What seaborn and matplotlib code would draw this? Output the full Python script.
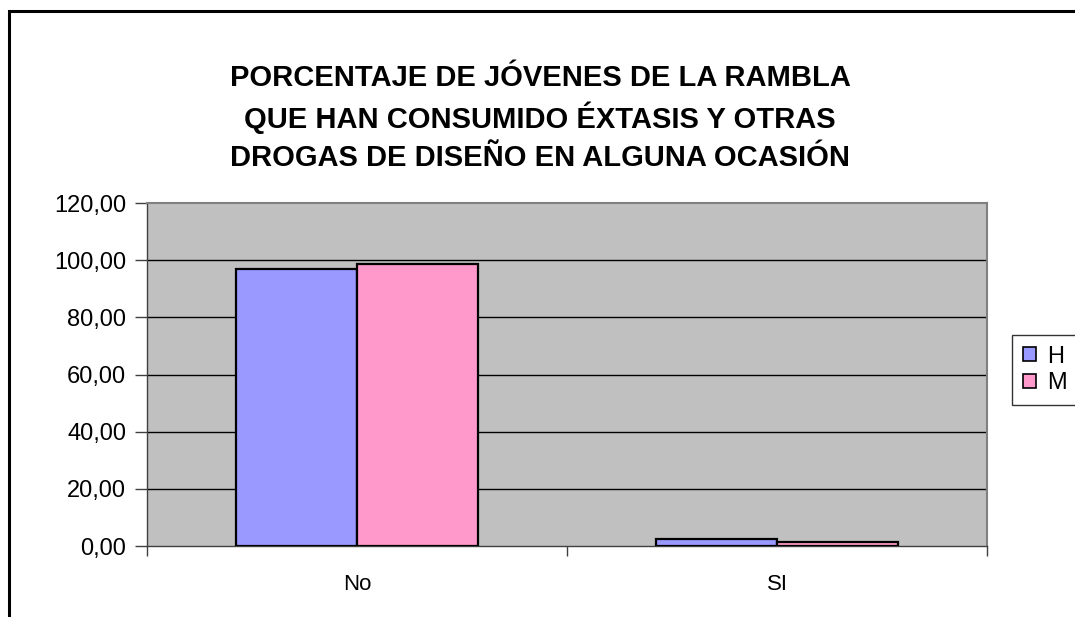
import matplotlib
matplotlib.use("Agg")
import matplotlib.pyplot as plt
import seaborn as sns
import pandas as pd
from matplotlib.patches import Rectangle
from matplotlib.ticker import FixedLocator

categories = ["No", "SI"]
series = ["H", "M"]
values_H = [97.0, 2.5]
values_M = [98.5, 1.5]
yticks = [0, 20, 40, 60, 80, 100, 120]
title_lines = ["PORCENTAJE DE JÓVENES DE LA RAMBLA",
               "QUE HAN CONSUMIDO ÉXTASIS Y OTRAS",
               "DROGAS DE DISEÑO EN ALGUNA OCASIÓN"]

df = pd.DataFrame({
    "cat": categories * 2,
    "serie": ["H"] * len(categories) + ["M"] * len(categories),
    "val": values_H + values_M,
})

sns.set_theme(style="white")
plt.rcParams['font.family'] = ['Liberation Sans', 'DejaVu Sans']
plt.rcParams['text.color'] = 'black'
plt.rcParams['xtick.color'] = 'black'
plt.rcParams['ytick.color'] = 'black'

fig = plt.figure(figsize=(10.75, 6.17), dpi=100)
ax = fig.add_axes([147/1075, 1 - 546/617, (987-147)/1075, (546-203)/617])
ax.set_facecolor("#C0C0C0")

sns.barplot(data=df, x="cat", y="val", hue="serie", hue_order=series,
            palette={"H": "#9999FF", "M": "#FF99CC"}, width=0.576,
            edgecolor="black", linewidth=1.6, saturation=1, ax=ax, zorder=3)

ax.set_ylim(0, 120)
ax.set_xlim(-0.5, 1.5)
ax.set_yticks(yticks)
ax.set_yticklabels([f"{v:.2f}".replace(".", ",") for v in yticks], fontsize=17, color="black")
for v in yticks[1:-1]:
    ax.axhline(v, color="black", linewidth=1, zorder=1)
ax.set_xticks(range(len(categories)))
ax.set_xticklabels(categories, fontsize=16, color="black")
ax.tick_params(axis="x", which="major", length=0, pad=20)
ax.xaxis.set_minor_locator(FixedLocator([-0.5, 0.5, 1.5]))
ax.tick_params(axis="x", which="minor", length=7, width=1, color="#404040", direction="out", bottom=True)
ax.tick_params(axis="y", length=9, width=1, color="#404040", direction="out", left=True, pad=6)
ax.set_xlabel("")
ax.set_ylabel("")

for side in ["top", "right"]:
    ax.spines[side].set_color("#808080")
    ax.spines[side].set_linewidth(1.5)
for side in ["left", "bottom"]:
    ax.spines[side].set_color("#404040")
    ax.spines[side].set_linewidth(1)

handles, labels = ax.get_legend_handles_labels()
leg = ax.legend(handles, labels, loc="upper left", bbox_to_anchor=(1012/1075, 1 - 335/617),
                bbox_transform=fig.transFigure, frameon=True, fontsize=17,
                handlelength=0.55, handleheight=0.55, handletextpad=0.5,
                borderpad=0.45, labelspacing=0.2, fancybox=False, borderaxespad=0)
leg.get_frame().set_edgecolor("black")
leg.get_frame().set_linewidth(1)
for t in leg.get_texts():
    t.set_color("black")
for h in leg.legend_handles:
    h.set_edgecolor("black")
    h.set_linewidth(1.2)

for i, line in enumerate(title_lines):
    fig.text(540/1075, 1 - (78 + 40*i)/617, line, ha="center", va="center", fontsize=21,
             fontweight="bold", color="black")

fig.patches.append(Rectangle((9/1075, -0.2), 1.5, 1 - 11/617 + 0.2, transform=fig.transFigure,
                             fill=False, edgecolor="black", linewidth=2.2))

fig.savefig("out.png", dpi=100)
